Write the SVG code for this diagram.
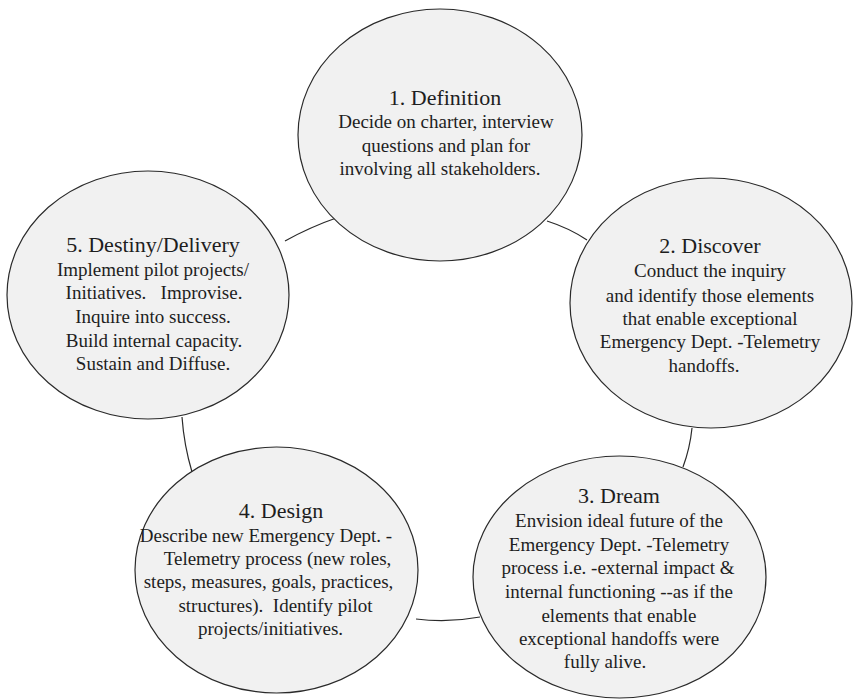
<svg xmlns="http://www.w3.org/2000/svg" width="854" height="699" viewBox="0 0 854 699" font-family="'Liberation Serif', 'DejaVu Serif', serif">
<style>
.node ellipse{fill:#f1f1f1;stroke:#2a2a2a;stroke-width:1.2}
.conn path{fill:none;stroke:#2a2a2a;stroke-width:1.2}
text{font-family:'Liberation Serif','DejaVu Serif',serif;fill:#1e1e1e;text-anchor:middle}
.t{font-size:22px}
.b{font-size:19px}
</style>
<rect width="854" height="699" fill="#ffffff"/>
<g id="connectors" class="conn">
<path d="M285,241 Q310,227 339,217"/>
<path d="M547,221 Q569,228 587,240"/>
<path d="M692,428 Q690,448 683,467"/>
<path d="M480,617 Q448,623 416,619"/>
<path d="M192,472 Q184,445 182,417"/>
</g>
<g id="node1" class="node">
<ellipse cx="440" cy="135" rx="142" ry="126"/>
<text class="t" x="445" y="105">1. Definition</text>
<text class="b" x="446" y="128">Decide on charter, interview</text>
<text class="b" x="446" y="152">questions and plan for</text>
<text class="b" x="440" y="175">involving all stakeholders.</text>
</g>
<g id="node2" class="node">
<ellipse cx="711" cy="303" rx="141" ry="125"/>
<text class="t" x="710" y="253">2. Discover</text>
<text class="b" x="710" y="277">Conduct the inquiry</text>
<text class="b" x="710" y="302">and identify those elements</text>
<text class="b" x="710" y="325">that enable exceptional</text>
<text class="b" x="710" y="348">Emergency Dept. -Telemetry</text>
<text class="b" x="704" y="372">handoffs.</text>
</g>
<g id="node3" class="node">
<ellipse cx="619.5" cy="577" rx="146.5" ry="121"/>
<text class="t" x="619" y="503">3. Dream</text>
<text class="b" x="619" y="527">Envision ideal future of the</text>
<text class="b" x="619" y="551">Emergency Dept. -Telemetry</text>
<text class="b" x="618" y="574">process i.e. -external impact &amp;</text>
<text class="b" x="619" y="598">internal functioning --as if the</text>
<text class="b" x="619" y="622">elements that enable</text>
<text class="b" x="619" y="645">exceptional handoffs were</text>
<text class="b" x="605" y="668">fully alive.</text>
</g>
<g id="node4" class="node">
<ellipse cx="276.5" cy="570" rx="141.5" ry="123"/>
<text class="t" x="281" y="518">4. Design</text>
<text class="b" x="266" y="542">Describe new Emergency Dept. -</text>
<text class="b" x="277.5" y="565">Telemetry process (new roles,</text>
<text class="b" x="268.5" y="588">steps, measures, goals, practices,</text>
<text class="b" x="275.5" y="612" xml:space="preserve">structures).  Identify pilot</text>
<text class="b" x="270.5" y="635">projects/initiatives.</text>
</g>
<g id="node5" class="node">
<ellipse cx="148" cy="295" rx="141" ry="124"/>
<text class="t" x="153" y="252">5. Destiny/Delivery</text>
<text class="b" x="153" y="276">Implement pilot projects/</text>
<text class="b" x="154" y="299" xml:space="preserve">Initiatives.   Improvise.</text>
<text class="b" x="153" y="323">Inquire into success.</text>
<text class="b" x="154" y="347">Build internal capacity.</text>
<text class="b" x="153" y="370">Sustain and Diffuse.</text>
</g>
</svg>
